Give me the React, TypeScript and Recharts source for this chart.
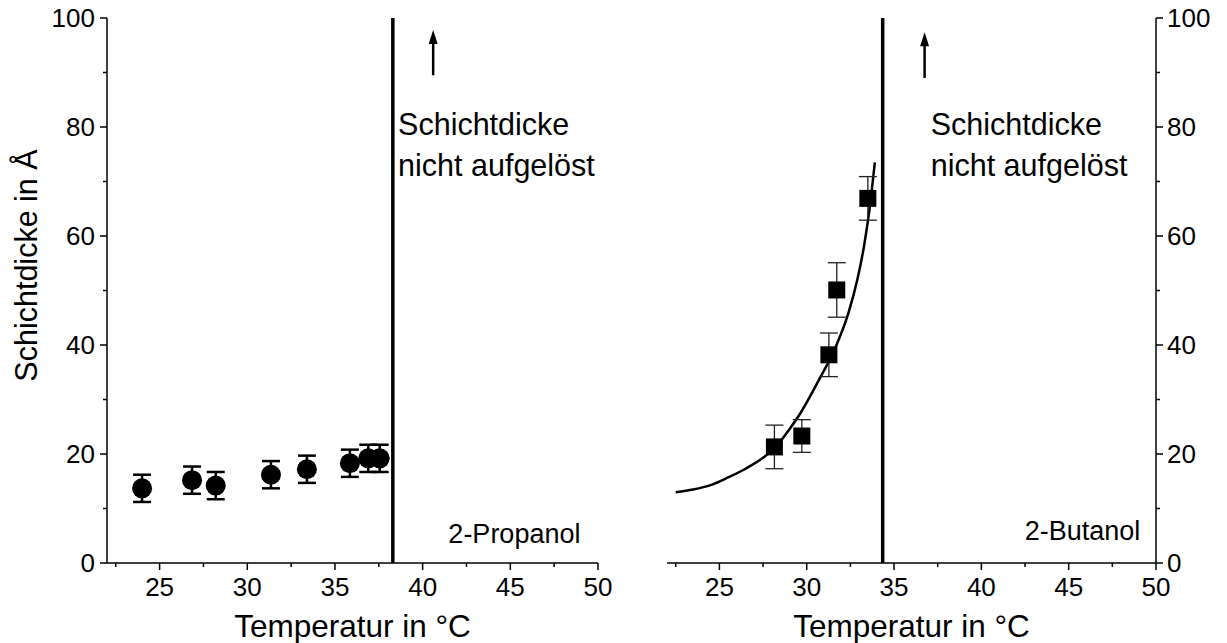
import {
  ComposedChart,
  Scatter,
  Line,
  ErrorBar,
  XAxis,
  YAxis,
  ReferenceLine,
  ReferenceDot,
} from "recharts";

const FONT = "'Liberation Sans', Arial, sans-serif";

// x ticks: majors every 5, minors every 2.5
const xTicks = [22.5, 25, 27.5, 30, 32.5, 35, 37.5, 40, 42.5, 45, 47.5, 50];
const yTicks = [0, 10, 20, 30, 40, 50, 60, 70, 80, 90, 100];
const frameXTicks = [22.5, 25, 27.5, 30, 32.5, 35, 37.5, 40, 42.5, 45, 47.5];
const frameYTicks = [10, 20, 30, 40, 50, 60, 70, 80, 90];

// 2-Propanol: temperature, thickness, error
const propanolT = [24.0, 26.85, 28.2, 31.35, 33.4, 35.85, 36.9, 37.55];
const propanolD = [13.7, 15.2, 14.2, 16.2, 17.2, 18.3, 19.2, 19.2];
const propanolErr = [2.5, 2.5, 2.5, 2.5, 2.5, 2.5, 2.5, 2.5];

// 2-Butanol
const butanolT = [28.15, 29.72, 31.27, 31.72, 33.5];
const butanolD = [21.3, 23.3, 38.2, 50.1, 66.9];
const butanolErr = [4, 3, 4, 5, 4];

// fit curve
const fitT = [22.5, 23.5, 24.5, 25.5, 26.5, 27.5, 28.2, 29.0, 29.7, 30.3, 30.9, 31.4, 31.9, 32.4, 32.9, 33.3, 33.6, 33.9];
const fitD = [13.0, 13.5, 14.3, 15.7, 17.3, 19.3, 21.2, 24.5, 27.8, 31.2, 34.8, 37.8, 41.5, 46.0, 52.0, 58.5, 65.0, 73.5];

const propanolCrit = 38.3;
const butanolCrit = 34.35;

const propanol = propanolT.map((t, i) => ({ t, d: propanolD[i], err: propanolErr[i] }));
const butanol = butanolT.map((t, i) => ({ t, d: butanolD[i], err: butanolErr[i] }));
const fit = fitT.map((t, i) => ({ t, d: fitD[i] }));

function XTick({ x, y, payload }: any) {
  const major = payload.value % 5 === 0;
  return (
    <g>
      <line x1={x} x2={x} y1={y} y2={y + (major ? 7 : 4)} stroke="#000" strokeWidth={1.5} />
      {major && (
        <text x={x} y={y + 15} dy="0.71em" textAnchor="middle" fontSize={26} fontFamily={FONT} fill="#000">
          {payload.value}
        </text>
      )}
    </g>
  );
}

function YTickLeft({ x, y, payload }: any) {
  const major = payload.value % 20 === 0;
  return (
    <g>
      <line x1={x - (major ? 7 : 4)} x2={x} y1={y} y2={y} stroke="#000" strokeWidth={1.5} />
      {major && (
        <text x={x - 12} y={y} dy="0.36em" textAnchor="end" fontSize={26} fontFamily={FONT} fill="#000">
          {payload.value}
        </text>
      )}
    </g>
  );
}

function YTickRight({ x, y, payload }: any) {
  const major = payload.value % 20 === 0;
  return (
    <g>
      <line x1={x} x2={x + (major ? 7 : 4)} y1={y} y2={y} stroke="#000" strokeWidth={1.5} />
      {major && (
        <text x={x + 11} y={y} dy="0.36em" textAnchor="start" fontSize={26} fontFamily={FONT} fill="#000">
          {payload.value}
        </text>
      )}
    </g>
  );
}

const arrowShape = (p: any) => {
  const { x1, y1, x2, y2 } = p;
  const top = Math.min(y1, y2);
  const bottom = Math.max(y1, y2);
  return (
    <g>
      <line x1={x1} x2={x1} y1={bottom} y2={top + 10} stroke="#000" strokeWidth={2.5} />
      <polygon points={`${x1},${top} ${x1 - 4.5},${top + 14} ${x1 + 4.5},${top + 14}`} fill="#000" />
    </g>
  );
};

const noteLabel = (p: any) => {
  const { x, y } = p.viewBox;
  return (
    <text x={x} y={y} fontSize={30.5} fontFamily={FONT} fill="#000">
      <tspan x={x} dy={0}>Schichtdicke</tspan>
      <tspan x={x} dy={41}>nicht aufgelöst</tspan>
    </text>
  );
};

const nameLabel = (name: string) => (p: any) => {
  const { x, y } = p.viewBox;
  return (
    <text x={x} y={y} textAnchor="end" fontSize={27} fontFamily={FONT} fill="#000">
      {name}
    </text>
  );
};

const yTitle = (p: any) => {
  const { x, y, height } = p.viewBox;
  const cx = x + 37;
  const cy = y + height / 2 - 25;
  return (
    <text x={cx} y={cy} transform={`rotate(-90 ${cx} ${cy})`} textAnchor="middle" fontSize={30.5} fontFamily={FONT} fill="#000">
      Schichtdicke in Å
    </text>
  );
};

const circle = (p: any) => <circle cx={p.cx} cy={p.cy} r={10} fill="#000" />;
const square = (p: any) => <rect x={p.cx - 8.5} y={p.cy - 8.5} width={17} height={17} fill="#000" />;

const xLabel = { value: "Temperatur in °C", position: "insideBottom" as const, offset: 6, fontSize: 31.5, fontFamily: FONT, fill: "#000" };

export default function App() {
  return (
    <div style={{ position: "absolute", left: 0, top: 0, width: 1227, height: 643, background: "#fff" }}>
      <div style={{ position: "absolute", left: 0, top: 0 }}>
        <ComposedChart width={640} height={643} margin={{ top: 18, right: 42, bottom: 0, left: 0 }}>
          <XAxis
            dataKey="t"
            type="number"
            domain={[22, 50]}
            ticks={xTicks}
            interval={0}
            tick={<XTick />}
            tickLine={false}
            tickSize={0}
            tickMargin={0}
            height={80}
            axisLine={{ stroke: "#000", strokeWidth: 1.5 }}
            label={xLabel}
          />
          <XAxis
            xAxisId="top"
            orientation="top"
            type="number"
            domain={[22, 50]}
            ticks={frameXTicks}
            interval={0}
            tick={false}
            mirror
            tickSize={3}
            height={0}
            axisLine={{ stroke: "#000", strokeWidth: 1.5 }}
            tickLine={{ stroke: "#000" }}
          />
          <YAxis
            type="number"
            domain={[0, 100]}
            ticks={yTicks}
            interval={0}
            tick={<YTickLeft />}
            tickLine={false}
            tickSize={0}
            tickMargin={0}
            width={107}
            axisLine={{ stroke: "#000", strokeWidth: 1.5 }}
            label={yTitle}
          />
          <YAxis
            yAxisId="r"
            orientation="right"
            type="number"
            domain={[0, 100]}
            ticks={frameYTicks}
            interval={0}
            tick={false}
            mirror
            tickSize={3}
            width={0}
            axisLine={{ stroke: "#000", strokeWidth: 1.5 }}
            tickLine={{ stroke: "#000" }}
          />
          <ReferenceLine x={propanolCrit} stroke="#000" strokeWidth={3.5} />
          <ReferenceLine
            segment={[{ x: 40.6, y: 89.5 }, { x: 40.6, y: 97.8 }]}
            shape={arrowShape}
          />
          <ReferenceDot x={38.6} y={78.5} r={0} fill="none" stroke="none" label={noteLabel} />
          <ReferenceDot x={49} y={3.6} r={0} fill="none" stroke="none" label={nameLabel("2-Propanol")} />
          <Scatter data={propanol} dataKey="d" shape={circle} isAnimationActive={false}>
            <ErrorBar dataKey="err" direction="y" width={9} stroke="#000" strokeWidth={2.5} />
          </Scatter>
        </ComposedChart>
      </div>

      <div style={{ position: "absolute", left: 640, top: 0 }}>
        <ComposedChart width={587} height={643} margin={{ top: 18, right: 0, bottom: 0, left: 27 }}>
          <XAxis
            dataKey="t"
            type="number"
            domain={[22, 50]}
            ticks={xTicks}
            interval={0}
            tick={<XTick />}
            tickLine={false}
            tickSize={0}
            tickMargin={0}
            height={80}
            axisLine={{ stroke: "#000", strokeWidth: 1.5 }}
            label={xLabel}
          />
          <XAxis
            xAxisId="top"
            orientation="top"
            type="number"
            domain={[22, 50]}
            ticks={frameXTicks}
            interval={0}
            tick={false}
            mirror
            tickSize={3}
            height={0}
            axisLine={{ stroke: "#000", strokeWidth: 1.5 }}
            tickLine={{ stroke: "#000" }}
          />
          <YAxis
            yAxisId="l"
            orientation="left"
            type="number"
            domain={[0, 100]}
            ticks={frameYTicks}
            interval={0}
            tick={false}
            mirror
            tickSize={3}
            width={0}
            axisLine={{ stroke: "#000", strokeWidth: 1.5 }}
            tickLine={{ stroke: "#000" }}
          />
          <YAxis
            orientation="right"
            type="number"
            domain={[0, 100]}
            ticks={yTicks}
            interval={0}
            tick={<YTickRight />}
            tickLine={false}
            tickSize={0}
            tickMargin={0}
            width={71}
            axisLine={{ stroke: "#000", strokeWidth: 1.5 }}
          />
          <ReferenceLine x={butanolCrit} stroke="#000" strokeWidth={3.5} />
          <ReferenceLine
            segment={[{ x: 36.75, y: 89 }, { x: 36.75, y: 97.4 }]}
            shape={arrowShape}
          />
          <ReferenceDot x={37.1} y={78.5} r={0} fill="none" stroke="none" label={noteLabel} />
          <ReferenceDot x={49.1} y={4.2} r={0} fill="none" stroke="none" label={nameLabel("2-Butanol")} />
          <Line
            data={fit}
            dataKey="d"
            type="monotone"
            stroke="#000"
            strokeWidth={2.5}
            dot={false}
            activeDot={false}
            isAnimationActive={false}
          />
          <Scatter data={butanol} dataKey="d" shape={square} isAnimationActive={false}>
            <ErrorBar dataKey="err" direction="y" width={9} stroke="#222" strokeWidth={1.3} />
          </Scatter>
        </ComposedChart>
      </div>
    </div>
  );
}
